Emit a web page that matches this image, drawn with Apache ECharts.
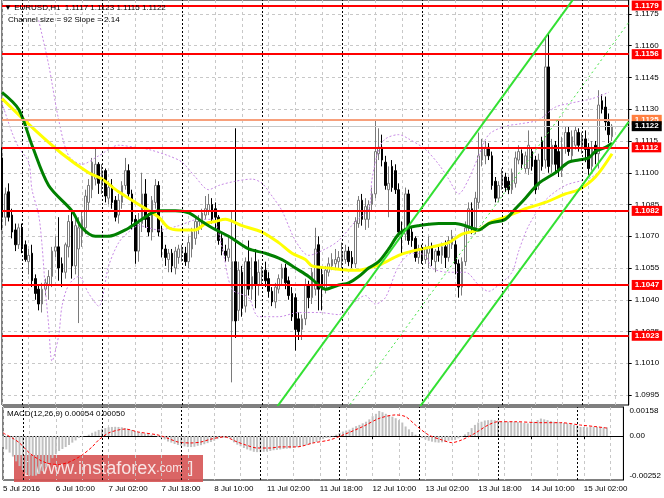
<!DOCTYPE html>
<html>
<head>
<meta charset="utf-8">
<title>EURUSD H1</title>
<script src="https://cdn.jsdelivr.net/npm/echarts@6/dist/echarts.min.js"></script>
<style>
  html, body { margin: 0; padding: 0; background: #fff; }
  #main { width: 664px; height: 498px; }
</style>
</head>
<body>
<div id="main"></div>
<script type="text/javascript">
// time labels, one every 16 hourly bars
var tickLabels = ['5 Jul 2016', '6 Jul 10:00', '7 Jul 02:00', '7 Jul 18:00', '8 Jul 10:00', '11 Jul 02:00',
    '11 Jul 18:00', '12 Jul 10:00', '13 Jul 02:00', '13 Jul 18:00', '14 Jul 10:00', '15 Jul 02:00'];
// bar index where each new day starts
var daySeparators = [6, 30, 54, 78, 102, 126, 150, 174];
var priceTicks = [1.0995, 1.1010, 1.1025, 1.1040, 1.1055, 1.1070, 1.1085, 1.1100, 1.1115, 1.1130, 1.1145, 1.1160, 1.1175];
var levelLines = [1.1179, 1.1156, 1.1112, 1.1082, 1.1047, 1.1023];
var orangeLevel = 1.1125;

// hourly bars: [open, high, low, close]
var candles = [
    [1.1107,1.1112,1.1073,1.1079],[1.1079,1.1093,1.1075,1.1090],[1.1091,1.1095,1.1077,1.1079],[1.1080,1.1083,1.1069,1.1072],
    [1.1073,1.1076,1.1063,1.1066],[1.1066,1.1076,1.1064,1.1074],[1.1074,1.1076,1.1062,1.1065],[1.1066,1.1068,1.1058,1.1059],
    [1.1058,1.1064,1.1052,1.1061],[1.1062,1.1066,1.1046,1.1049],[1.1050,1.1052,1.1040,1.1043],[1.1045,1.1047,1.1035,1.1038],
    [1.1038,1.1048,1.1034,1.1045],[1.1045,1.1050,1.1042,1.1048],[1.1047,1.1054,1.1040,1.1051],[1.1051,1.1065,1.1046,1.1063],
    [1.1063,1.1070,1.1060,1.1065],[1.1065,1.1079,1.1049,1.1055],[1.1057,1.1060,1.1046,1.1053],[1.1053,1.1067,1.1050,1.1066],
    [1.1065,1.1080,1.1060,1.1077],[1.1077,1.1082,1.1050,1.1056],[1.1056,1.1078,1.1052,1.1075],[1.1064,1.1079,1.1029,1.1074],
    [1.1070,1.1082,1.1065,1.1078],[1.1074,1.1092,1.1071,1.1089],[1.1086,1.1097,1.1082,1.1094],[1.1092,1.1107,1.1088,1.1105],
    [1.1097,1.1112,1.1094,1.1104],[1.1104,1.1105,1.1090,1.1095],[1.1094,1.1104,1.1090,1.1101],[1.1101,1.1102,1.1086,1.1089],
    [1.1088,1.1096,1.1085,1.1093],[1.1094,1.1097,1.1083,1.1086],[1.1087,1.1089,1.1077,1.1079],[1.1080,1.1090,1.1076,1.1087],
    [1.1086,1.1096,1.1083,1.1094],[1.1094,1.1107,1.1092,1.1101],[1.1101,1.1104,1.1088,1.1090],[1.1090,1.1092,1.1073,1.1077],
    [1.1078,1.1080,1.1057,1.1063],[1.1063,1.1081,1.1058,1.1076],[1.1076,1.1100,1.1072,1.1090],[1.1090,1.1097,1.1074,1.1078],
    [1.1079,1.1081,1.1070,1.1072],[1.1072,1.1089,1.1068,1.1087],[1.1086,1.1097,1.1083,1.1094],[1.1094,1.1096,1.1070,1.1072],
    [1.1072,1.1075,1.1060,1.1064],[1.1064,1.1066,1.1056,1.1060],[1.1059,1.1064,1.1053,1.1062],[1.1062,1.1064,1.1053,1.1056],
    [1.1055,1.1065,1.1052,1.1063],[1.1060,1.1066,1.1057,1.1064],[1.1062,1.1066,1.1058,1.1064],[1.1062,1.1065,1.1056,1.1058],
    [1.1058,1.1070,1.1055,1.1067],[1.1064,1.1074,1.1060,1.1072],[1.1069,1.1079,1.1066,1.1077],[1.1074,1.1080,1.1071,1.1077],
    [1.1076,1.1083,1.1073,1.1081],[1.1080,1.1089,1.1078,1.1083],[1.1082,1.1090,1.1080,1.1085],[1.1085,1.1088,1.1076,1.1078],
    [1.1083,1.1086,1.1073,1.1079],[1.1079,1.1080,1.1066,1.1068],[1.1069,1.1071,1.1061,1.1063],[1.1063,1.1066,1.1058,1.1061],
    [1.1060,1.1070,1.1058,1.1064],[1.1030,1.1082,1.1001,1.1058],[1.1058,1.1121,1.1022,1.1030],[1.1035,1.1058,1.1030,1.1054],
    [1.1053,1.1056,1.1032,1.1036],[1.1037,1.1060,1.1034,1.1058],[1.1058,1.1068,1.1042,1.1045],[1.1045,1.1060,1.1040,1.1051],
    [1.1058,1.1064,1.1036,1.1047],[1.1047,1.1059,1.1042,1.1053],[1.1051,1.1056,1.1047,1.1054],[1.1054,1.1058,1.1046,1.1049],
    [1.1050,1.1053,1.1041,1.1044],[1.1044,1.1046,1.1037,1.1039],[1.1039,1.1048,1.1036,1.1046],[1.1045,1.1052,1.1043,1.1050],
    [1.1050,1.1057,1.1047,1.1055],[1.1055,1.1057,1.1045,1.1048],[1.1049,1.1051,1.1040,1.1042],[1.1043,1.1046,1.1030,1.1032],
    [1.1041,1.1043,1.1016,1.1026],[1.1031,1.1034,1.1021,1.1025],[1.1026,1.1033,1.1021,1.1031],[1.1031,1.1050,1.1028,1.1047],
    [1.1047,1.1049,1.1036,1.1041],[1.1041,1.1055,1.1038,1.1053],[1.1045,1.1074,1.1042,1.1064],[1.1066,1.1070,1.1035,1.1045],
    [1.1052,1.1055,1.1035,1.1045],[1.1045,1.1056,1.1043,1.1054],[1.1053,1.1060,1.1051,1.1057],[1.1056,1.1062,1.1054,1.1059],
    [1.1057,1.1064,1.1054,1.1059],[1.1058,1.1063,1.1055,1.1060],[1.1058,1.1067,1.1055,1.1062],[1.1059,1.1066,1.1057,1.1063],
    [1.1063,1.1065,1.1056,1.1058],[1.1060,1.1063,1.1055,1.1057],[1.1057,1.1079,1.1055,1.1077],[1.1076,1.1089,1.1074,1.1087],
    [1.1087,1.1090,1.1075,1.1078],[1.1078,1.1088,1.1073,1.1084],[1.1078,1.1087,1.1074,1.1085],[1.1085,1.1093,1.1082,1.1090],
    [1.1090,1.1125,1.1088,1.1110],[1.1109,1.1121,1.1106,1.1112],[1.1112,1.1118,1.1103,1.1106],[1.1105,1.1108,1.1092,1.1094],
    [1.1092,1.1103,1.1079,1.1095],[1.1103,1.1106,1.1091,1.1093],[1.1101,1.1104,1.1090,1.1092],[1.1092,1.1095,1.1070,1.1072],
    [1.1072,1.1077,1.1062,1.1070],[1.1071,1.1093,1.1068,1.1090],[1.1090,1.1092,1.1066,1.1068],[1.1072,1.1074,1.1065,1.1068],
    [1.1069,1.1070,1.1058,1.1060],[1.1060,1.1066,1.1057,1.1064],[1.1064,1.1066,1.1057,1.1059],[1.1059,1.1066,1.1057,1.1064],
    [1.1062,1.1070,1.1055,1.1065],[1.1065,1.1067,1.1056,1.1059],[1.1058,1.1064,1.1053,1.1063],[1.1063,1.1066,1.1058,1.1061],
    [1.1061,1.1067,1.1057,1.1065],[1.1065,1.1068,1.1055,1.1060],[1.1060,1.1070,1.1058,1.1068],[1.1066,1.1073,1.1064,1.1070],
    [1.1066,1.1068,1.1052,1.1057],[1.1057,1.1059,1.1041,1.1046],[1.1046,1.1060,1.1042,1.1058],[1.1058,1.1077,1.1056,1.1074],
    [1.1074,1.1086,1.1072,1.1083],[1.1083,1.1086,1.1071,1.1074],[1.1074,1.1091,1.1071,1.1088],[1.1086,1.1119,1.1083,1.1108],
    [1.1106,1.1116,1.1103,1.1112],[1.1108,1.1115,1.1104,1.1112],[1.1112,1.1114,1.1106,1.1108],[1.1108,1.1110,1.1092,1.1094],
    [1.1096,1.1098,1.1086,1.1088],[1.1088,1.1096,1.1086,1.1094],[1.1094,1.1102,1.1092,1.1099],[1.1098,1.1100,1.1091,1.1093],
    [1.1096,1.1098,1.1090,1.1092],[1.1092,1.1102,1.1090,1.1100],[1.1095,1.1110,1.1093,1.1107],[1.1106,1.1113,1.1104,1.1110],
    [1.1109,1.1111,1.1102,1.1104],[1.1102,1.1110,1.1100,1.1108],[1.1102,1.1120,1.1099,1.1113],[1.1110,1.1112,1.1101,1.1103],
    [1.1106,1.1108,1.1090,1.1092],[1.1094,1.1109,1.1092,1.1106],[1.1115,1.1117,1.1101,1.1103],[1.1106,1.1164,1.1102,1.1150],
    [1.1150,1.1166,1.1100,1.1103],[1.1104,1.1116,1.1100,1.1113],[1.1113,1.1115,1.1100,1.1104],[1.1110,1.1125,1.1098,1.1101],
    [1.1101,1.1117,1.1098,1.1112],[1.1112,1.1122,1.1109,1.1119],[1.1119,1.1122,1.1108,1.1110],[1.1108,1.1120,1.1105,1.1117],
    [1.1113,1.1122,1.1111,1.1120],[1.1119,1.1121,1.1110,1.1113],[1.1112,1.1119,1.1109,1.1117],[1.1116,1.1120,1.1105,1.1111],
    [1.1112,1.1114,1.1099,1.1102],[1.1103,1.1115,1.1101,1.1112],[1.1113,1.1115,1.1104,1.1109],[1.1109,1.1139,1.1102,1.1132],
    [1.1134,1.1137,1.1128,1.1130],[1.1131,1.1136,1.1120,1.1124],[1.1124,1.1128,1.1114,1.1118],[1.1117,1.1123,1.1115,1.1122]
];
var shiftBars = 5; // empty space right of the last bar

// moving averages: [bar index, price]
var maGreen = [[0,1.1138],[5,1.1130],[9,1.1113],[14,1.1094],[21,1.1082],[24,1.1074],[28,1.1070],[32,1.1070],[37,1.1073],
    [41,1.1077],[47,1.1082],[52,1.1082],[56,1.1081],[60,1.1077],[63,1.1074],[68,1.1070],[74,1.1064],[79,1.1062],[84,1.1059],
    [88,1.1055],[92,1.1051],[95,1.1047],[97,1.1045],[101,1.1047],[104,1.1048],[107,1.1051],[110,1.1055],[113,1.1058],
    [116,1.1064],[119,1.1071],[122,1.1074],[125,1.1075],[131,1.1076],[136,1.1076],[139,1.1075],[143,1.1073],[146,1.1076],
    [151,1.1078],[154,1.1083],[157,1.1088],[161,1.1095],[166,1.1100],[170,1.1105],[173,1.1106],[176,1.1107],[178,1.1110],
    [181,1.1112],[183,1.1114]];
var maYellow = [[0,1.1135],[10,1.1120],[18,1.1109],[26,1.1100],[30,1.1097],[35,1.1091],[41,1.1085],[47,1.1079],[50,1.1074],
    [53,1.1073],[58,1.1073],[61,1.1076],[64,1.1077],[67,1.1078],[72,1.1075],[78,1.1072],[83,1.1067],[87,1.1062],[91,1.1059],
    [93,1.1056],[98,1.1055],[104,1.1054],[107,1.1054],[110,1.1055],[114,1.1057],[119,1.1061],[123,1.1063],[129,1.1065],
    [134,1.1067],[138,1.1071],[143,1.1073],[147,1.1077],[151,1.1079],[157,1.1083],[163,1.1086],[169,1.1090],[173,1.1092],
    [178,1.1098],[183,1.1109]];
var bandUpper = [[11,1.1172],[14,1.1151],[17,1.1125],[20,1.1108],[24,1.1104],[29,1.1108],[35,1.1113],[40,1.1112],[44,1.1111],
    [50,1.1108],[54,1.1105],[58,1.1098],[62,1.1092],[65,1.1094],[70,1.1096],[75,1.1097],[78,1.1095],[81,1.1089],[84,1.1082],
    [88,1.1068],[92,1.1061],[97,1.1064],[101,1.1068],[106,1.1077],[110,1.1083],[111,1.1097],[113,1.1111],[115,1.1116],
    [119,1.1118],[122,1.1116],[127,1.1111],[131,1.1104],[134,1.1097],[137,1.1090],[140,1.1097],[143,1.1108],[146,1.1118],
    [151,1.1122],[155,1.1123],[161,1.1125],[166,1.1131],[171,1.1133],[177,1.1135],[182,1.1138]];
var bandLower = [[0,1.1133],[3,1.1119],[5,1.1112],[8,1.1105],[9,1.1092],[11,1.1080],[12,1.1066],[13,1.1045],[14,1.1028],
    [15,1.1011],[17,1.1023],[18,1.1037],[20,1.1047],[23,1.1051],[26,1.1043],[29,1.1037],[32,1.1056],[35,1.1067],[38,1.1072],
    [41,1.1075],[47,1.1073],[53,1.1075],[59,1.1078],[63,1.1078],[66,1.1065],[69,1.1045],[74,1.1041],[77,1.1032],[83,1.1032],
    [89,1.1034],[95,1.1034],[101,1.1033],[105,1.1038],[109,1.1042],[112,1.1038],[115,1.1041],[119,1.1056],[123,1.1062],
    [127,1.1061],[129,1.1055],[134,1.1053],[139,1.1053],[143,1.1047],[146,1.1044],[149,1.1047],[153,1.1053],[155,1.1063],
    [158,1.1075],[163,1.1087],[169,1.1094],[177,1.1098],[182,1.1106]];
// regression channel (92 bars, slope 2.14): two points per line
var channelUpper = [[80,1.0984],[188,1.1218]];
var channelMiddle = [[100,1.0981],[188,1.1171]];
var channelLower = [[120,1.0978],[188,1.1124]];

// MACD(12,26,9) in units of 0.00001
var macdHist = [-69,-85,-105,-130,-160,-190,-215,-235,-248,-252,
    -250,-240,-222,-198,-170,-140,-115,-95,-82,-70,
    -57,-42,-28,-13,-5,0,8,20,28,38,
    45,50,55,57,58,57,55,50,44,38,
    32,25,20,15,13,8,2,-5,-12,-22,
    -35,-42,-50,-57,-62,-66,-70,-70,-68,-62,
    -58,-52,-45,-38,-30,-20,-13,-10,-10,-15,
    -40,-55,-65,-76,-85,-92,-100,-102,-102,-100,
    -98,-95,-90,-88,-85,-82,-80,-78,-75,-70,
    -68,-62,-58,-52,-45,-38,-30,-20,-13,-10,
    -2,8,20,28,34,40,52,62,70,80,
    90,105,125,140,158,150,140,132,122,112,
    100,85,60,42,25,8,0,-13,-22,-30,
    -36,-40,-42,-40,-38,-30,-27,-25,-15,-5,
    10,25,50,70,85,90,98,100,102,100,
    98,90,88,90,92,90,88,85,82,80,
    82,90,100,110,105,100,95,90,88,85,
    82,80,75,70,65,57,57,55,57,58,
    57,55,55,54];
var macdSignal = [[0,19],[3,-15],[5,-44],[8,-107],[11,-150],[14,-175],[17,-180],[20,-165],[22,-145],[24,-120],[27,-69],
    [29,-25],[32,19],[35,38],[37,44],[41,25],[47,6],[50,-15],[53,-38],[57,-44],[60,-38],[63,-20],[67,-6],[71,-38],[74,-60],
    [77,-76],[81,-76],[84,-69],[89,-69],[94,-44],[99,-25],[103,6],[109,59],[114,111],[119,133],[122,122],[125,69],[129,6],
    [133,-25],[136,-42],[139,-25],[143,17],[147,69],[150,90],[155,90],[163,84],[169,84],[175,69],[180,58],[183,50]];
var macdTicks = [-0.00252, 0, 0.00158];

var FONT = 'Liberation Sans';
var myChart = echarts.init(document.getElementById('main'));

var cats = [];
for (var i = 0; i < candles.length + shiftBars; i++) cats.push(String(i));

var kData = candles.map(function (c) { return [c[0], c[3], c[2], c[1]]; });
var last = candles[candles.length - 1];
var bid = last[3];

function boxLabel(v, bg) {
    return {
        show: true, position: 'end', distance: 3, formatter: v.toFixed(4),
        backgroundColor: bg, color: '#fff', fontSize: 8, fontFamily: FONT, fontWeight: 'bold',
        padding: [1, 3, 0, 3], lineHeight: 9
    };
}
var priceMarks = levelLines.map(function (v) {
    return { yAxis: v, lineStyle: { color: '#ff0000', width: 2, type: 'solid' }, label: boxLabel(v, '#ff0000') };
});
priceMarks.push({ yAxis: orangeLevel, lineStyle: { color: '#f7a07c', width: 2, type: 'solid' }, label: boxLabel(orangeLevel, '#ff7f3f') });
priceMarks.push({ yAxis: bid, lineStyle: { color: '#c8c8c8', width: 1, type: 'solid' }, label: boxLabel(bid, '#000000') });
function sepMarks() {
    return daySeparators.map(function (d) {
        return { xAxis: d, lineStyle: { color: '#000', width: 1, type: [2, 2] }, label: { show: false } };
    });
}

var gridLine = { show: true, lineStyle: { color: '#c8c8c8', width: 1, type: [3, 3] } };
var vGrid = { show: true, interval: function (idx) { return idx % 8 === 0; }, lineStyle: gridLine.lineStyle };

function lineSeries(data, color, width, type, z) {
    return {
        type: 'line', data: data, xAxisIndex: 0, yAxisIndex: 0, showSymbol: false, symbol: 'none',
        smooth: 0.3, lineStyle: { color: color, width: width, type: type }, z: z, silent: true
    };
}

var levelSeries = lineSeries(channelMiddle, '#44e044', 1, [2, 3], 5);
levelSeries.markLine = { silent: true, precision: 5, symbol: ['none', 'none'], animation: false, data: priceMarks };
var sepSeries = lineSeries(bandUpper, '#c88ae6', 1, [2, 2], 3);
sepSeries.markLine = { silent: true, symbol: ['none', 'none'], animation: false, data: sepMarks() };

var option = {
    animation: false,
    backgroundColor: '#fff',
    grid: [
        { left: 2, top: 0, width: 626.7, height: 405, show: true, borderColor: '#000', borderWidth: 1 },
        { left: 2, top: 407, width: 626.7, height: 73, show: true, borderColor: '#000', borderWidth: 1 }
    ],
    xAxis: [
        { type: 'category', gridIndex: 0, data: cats, boundaryGap: false,
          axisLine: { show: false }, axisTick: { show: false }, axisLabel: { show: false }, splitLine: vGrid },
        { type: 'category', gridIndex: 1, data: cats, boundaryGap: false,
          axisLine: { show: true, lineStyle: { color: '#000' } },
          axisTick: { show: true, interval: function (idx) { return idx % 16 === 0; }, length: 3, lineStyle: { color: '#000' } },
          axisLabel: { show: true, interval: function (idx) { return idx % 16 === 0; },
              formatter: function (v, idx) { return tickLabels[idx / 16] || ''; },
              align: 'left', fontSize: 8, fontFamily: FONT, color: '#000', margin: 5 },
          splitLine: vGrid }
    ],
    yAxis: [
        { type: 'value', gridIndex: 0, position: 'right', min: 1.09903, max: 1.11816,
          axisLine: { show: true, lineStyle: { color: '#000' } },
          axisTick: { show: true, length: 3, customValues: priceTicks, lineStyle: { color: '#000' } },
          axisLabel: { show: true, customValues: priceTicks, formatter: function (v) { return v.toFixed(4); },
              fontSize: 8, fontFamily: FONT, color: '#000', margin: 6 },
          splitLine: gridLine },
        { type: 'value', gridIndex: 1, position: 'right', min: -0.00278, max: 0.00183,
          axisLine: { show: true, lineStyle: { color: '#000' } },
          axisTick: { show: false, customValues: [0] },
          axisLabel: { show: true, customValues: macdTicks,
              formatter: function (v) { return v === 0 ? '0.00' : v.toFixed(5); },
              fontSize: 8, fontFamily: FONT, color: '#000', margin: 6 },
          splitLine: gridLine }
    ],
    series: [
        { type: 'candlestick', xAxisIndex: 0, yAxisIndex: 0, data: kData, barWidth: 2, clip: false, z: 2, silent: true,
          itemStyle: { color: '#ffffff', color0: '#000000', borderColor: '#7a7a7a', borderColor0: '#000000', borderWidth: 1 } },
        sepSeries,
        lineSeries(bandLower, '#c88ae6', 1, [2, 2], 3),
        lineSeries(maYellow, '#ffff00', 3, 'solid', 4),
        lineSeries(maGreen, '#008000', 3, 'solid', 4),
        levelSeries,
        lineSeries(channelUpper, '#33e033', 2, 'solid', 5),
        lineSeries(channelLower, '#33e033', 2, 'solid', 5),
        { type: 'bar', xAxisIndex: 1, yAxisIndex: 1, barWidth: 2, silent: true,
          data: macdHist.map(function (v) { return v / 1e5; }),
          itemStyle: { color: '#c0c0c0' },
          markLine: { silent: true, symbol: ['none', 'none'], animation: false, data: sepMarks() } },
        { type: 'line', xAxisIndex: 1, yAxisIndex: 1, symbol: 'none', smooth: 0.3, silent: true,
          data: macdSignal.map(function (p) { return [p[0], p[1] / 1e5]; }),
          lineStyle: { color: '#ff0000', width: 1, type: [3, 2] }, z: 4 }
    ],
    graphic: [
        { type: 'text', left: 4, top: 4, z: 10,
          style: { text: '\u25BC EURUSD,H1  ' + last[0].toFixed(4) + ' ' + last[1].toFixed(4) + ' ' + last[2].toFixed(4) + ' ' + last[3].toFixed(4),
                   fill: '#000', font: '8px "' + FONT + '"' } },
        { type: 'text', left: 8, top: 16, z: 10,
          style: { text: 'Channel size = 92 Slope = 2.14', fill: '#000', font: '8px "' + FONT + '"' } },
        { type: 'text', left: 7, top: 410, z: 10,
          style: { text: 'MACD(12,26,9) ' + (macdHist[macdHist.length - 1] / 1e5).toFixed(5) + ' ' +
                         (macdSignal[macdSignal.length - 1][1] / 1e5).toFixed(5),
                   fill: '#000', font: '8px "' + FONT + '"' } },
        { type: 'group', left: 14, top: 455, z: 20, children: [
            { type: 'rect', shape: { x: 0, y: 0, width: 189, height: 27 }, style: { fill: 'rgba(214,84,84,0.9)' } },
            { type: 'text', style: {
                x: 10, y: 14, verticalAlign: 'middle',
                text: '{b|[}  {w|www.instaforex}{c|.com}  {b|]}',
                rich: {
                    b: { fontSize: 16, fontFamily: FONT, fill: '#f8e4e4' },
                    w: { fontSize: 18, fontFamily: FONT, fill: '#f8e4e4' },
                    c: { fontSize: 12, fontFamily: FONT, fill: '#f8e4e4' }
                } } }
        ] }
    ]
};
myChart.setOption(option);
</script>
</body>
</html>
